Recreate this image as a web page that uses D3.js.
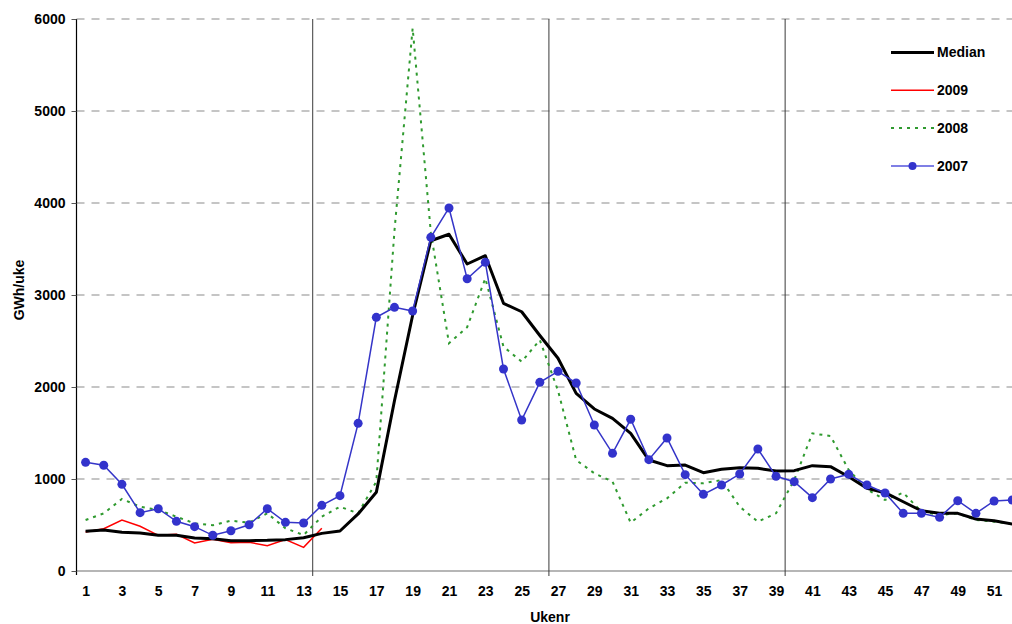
<!DOCTYPE html>
<html>
<head>
<meta charset="utf-8">
<script src="https://cdn.jsdelivr.net/npm/d3@7"></script>
<style>
  html, body { margin: 0; padding: 0; background: #fff; }
  svg { display: block; font-family: "Liberation Sans", Arial, sans-serif; }
  text { font-weight: bold; font-size: 14px; fill: #000; }
</style>
</head>
<body>
<svg id="chart" width="1012" height="624"></svg>
<script>
// Weekly values, GWh per week
const weeks = d3.range(1, 53);
const median = [431, 446, 420, 413, 388, 388, 359, 351, 330, 330, 333, 341, 362, 409, 435, 620, 855, 1850, 2780, 3590,
  3660, 3337, 3427, 2910, 2818, 2560, 2312, 1931, 1761, 1659, 1496, 1206, 1145, 1152, 1069, 1105, 1123, 1116, 1087, 1091,
  1145, 1134, 1025, 899, 851, 753, 655, 627, 627, 565, 547, 511];
const y2009 = [424, 460, 554, 486, 388, 399, 304, 344, 308, 312, 275, 341, 257, 464];
const y2008 = [554, 627, 783, 699, 663, 590, 518, 497, 547, 525, 627, 464, 391, 590, 699, 627, 971, 3700, 5900, 3680,
  2475, 2650, 3180, 2438, 2275, 2511, 1960, 1206, 1062, 971, 525, 681, 790, 960, 954, 989, 699, 536, 627, 989,
  1496, 1467, 1098, 888, 772, 851, 645, 609, 627, 554, 536, 511];
const y2007 = [1181, 1149, 942, 634, 677, 540, 482, 388, 438, 503, 677, 529, 522, 714, 819, 1605, 2757, 2866, 2826, 3627,
  3946, 3177, 3355, 2196, 1641, 2051, 2170, 2043, 1587, 1279, 1649, 1210, 1446, 1047, 833, 935, 1054, 1326, 1029, 971,
  797, 1000, 1051, 935, 848, 627, 627, 583, 764, 627, 761, 772];
const yTicks = [0, 1000, 2000, 3000, 4000, 5000, 6000];
const xTickLabels = d3.range(1, 53, 2);
const quarterBreaks = [13.5, 26.5, 39.5];

const svg = d3.select("#chart");
const plotLeft = 76.5, plotTop = 19, plotBottom = 571;
const step = 18.17;

const x = d3.scaleLinear().domain([0.5, 52.5]).range([plotLeft, plotLeft + 52 * step]);
const y = d3.scaleLinear().domain([0, 6000]).range([plotBottom, plotTop]);

// dashed horizontal gridlines
svg.append("g").selectAll("line")
  .data(yTicks.filter(d => d > 0))
  .join("line")
  .attr("x1", plotLeft).attr("x2", 1012)
  .attr("y1", d => y(d)).attr("y2", d => y(d))
  .attr("stroke", "#b3b3b3").attr("stroke-width", 1.6)
  .attr("stroke-dasharray", "8,7");

// x axis baseline
svg.append("line")
  .attr("x1", plotLeft).attr("x2", 1012)
  .attr("y1", y(0)).attr("y2", y(0))
  .attr("stroke", "#6e6e6e").attr("stroke-width", 1.2);

// quarter separators, running down past the axis as ticks
svg.append("g").selectAll("line")
  .data(quarterBreaks)
  .join("line")
  .attr("x1", d => x(d)).attr("x2", d => x(d))
  .attr("y1", plotTop).attr("y2", y(0) + 5)
  .attr("stroke", "#3a3a3a").attr("stroke-width", 1);

// y axis
const yAxis = svg.append("g")
  .attr("transform", `translate(${plotLeft},0)`)
  .call(d3.axisLeft(y).tickValues(yTicks).tickSize(5).tickPadding(6).tickFormat(d3.format("d")));
yAxis.select(".domain").attr("stroke", "#000").attr("stroke-width", 1.2).attr("d", `M0,${plotTop}V${plotBottom + 4}`);
yAxis.selectAll(".tick line").attr("stroke", "#555");
yAxis.selectAll("text").attr("font-size", 14).attr("font-weight", "bold").attr("font-family", "Liberation Sans, Arial, sans-serif");

// x axis labels (odd weeks)
const xAxis = svg.append("g")
  .attr("transform", `translate(0,${plotBottom})`)
  .call(d3.axisBottom(x).tickValues(xTickLabels).tickSize(0).tickPadding(15).tickFormat(d3.format("d")));
xAxis.select(".domain").remove();
xAxis.selectAll("text").attr("font-size", 14).attr("font-weight", "bold").attr("font-family", "Liberation Sans, Arial, sans-serif");

// axis titles
svg.append("text")
  .attr("transform", `translate(24,290) rotate(-90)`)
  .attr("text-anchor", "middle")
  .attr("font-size", 13)
  .text("GWh/uke");
svg.append("text")
  .attr("x", 550).attr("y", 622)
  .attr("text-anchor", "middle")
  .text("Ukenr");

const line = d3.line().x((d, i) => x(weeks[i])).y(d => y(d));

// series
svg.append("path").datum(y2008)
  .attr("d", line).attr("fill", "none")
  .attr("stroke", "#2f9a2f").attr("stroke-width", 2)
  .attr("stroke-dasharray", "3,5");

svg.append("path").datum(y2009)
  .attr("d", line).attr("fill", "none")
  .attr("stroke", "#ff0000").attr("stroke-width", 1.5);

svg.append("path").datum(median)
  .attr("d", line).attr("fill", "none")
  .attr("stroke", "#000").attr("stroke-width", 3)
  .attr("stroke-linejoin", "round");

svg.append("path").datum(y2007)
  .attr("d", line).attr("fill", "none")
  .attr("stroke", "#3535c8").attr("stroke-width", 1.5);
svg.append("g").selectAll("circle")
  .data(y2007)
  .join("circle")
  .attr("cx", (d, i) => x(weeks[i])).attr("cy", d => y(d))
  .attr("r", 4.5).attr("fill", "#3333cc");

// legend
const legendItems = [
  { name: "Median", color: "#000", width: 3, dash: null, marker: false },
  { name: "2009", color: "#ff0000", width: 1.5, dash: null, marker: false },
  { name: "2008", color: "#2f9a2f", width: 2, dash: "3,5", marker: false },
  { name: "2007", color: "#5555dd", width: 1.5, dash: null, marker: true }
];
const lg = svg.append("g").selectAll("g")
  .data(legendItems)
  .join("g")
  .attr("transform", (d, i) => `translate(891,${52.5 + i * 37.8})`);
lg.append("line")
  .attr("x1", 0).attr("x2", 43).attr("y1", 0).attr("y2", 0)
  .attr("stroke", d => d.color).attr("stroke-width", d => d.width)
  .attr("stroke-dasharray", d => d.dash);
lg.filter(d => d.marker).append("circle")
  .attr("cx", 21.5).attr("cy", 0).attr("r", 4).attr("fill", "#3333cc");
lg.append("text")
  .attr("x", 46).attr("y", 0).attr("dy", "0.35em")
  .text(d => d.name);
</script>
</body>
</html>
